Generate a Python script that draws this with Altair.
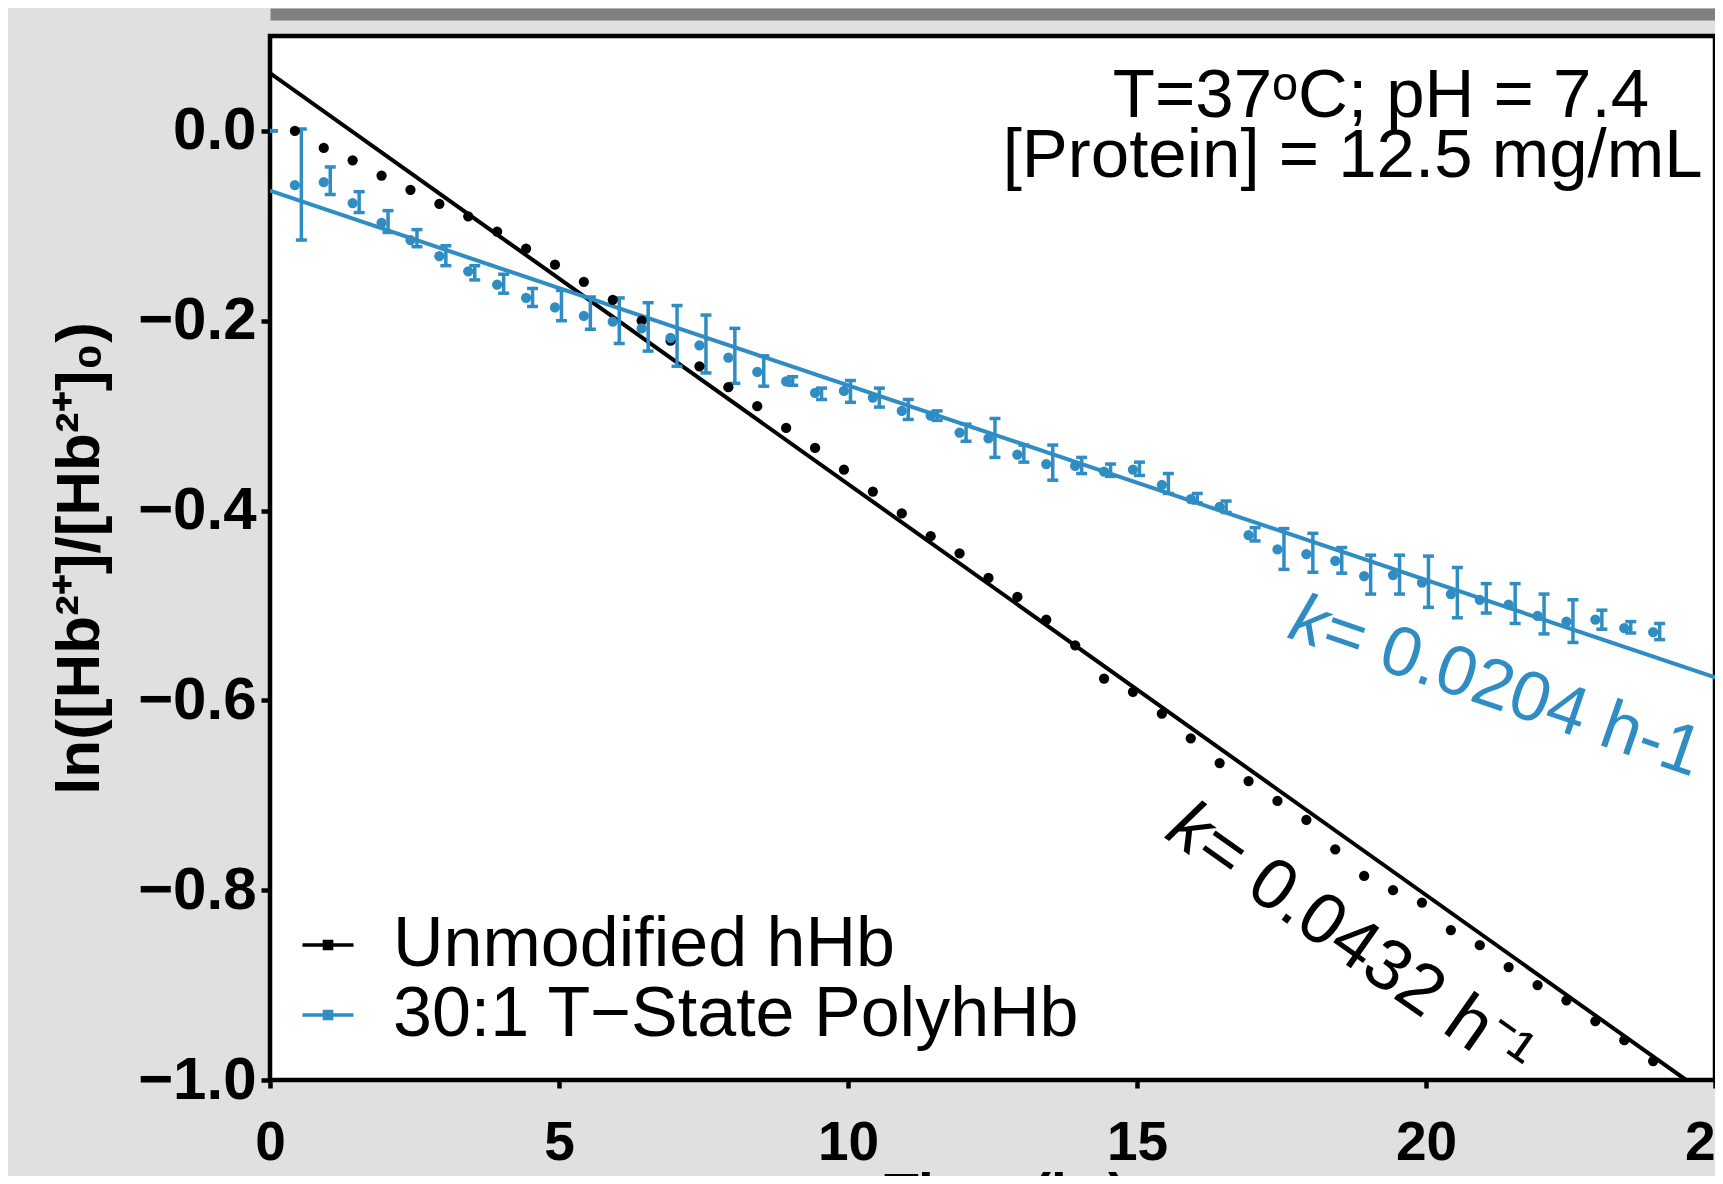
import altair as alt
import pandas as pd

FONT = "Liberation Sans"
BLUE = "#2f8dc3"

# ---------------- data ----------------
time_h = [0.43, 0.93, 1.43, 1.93, 2.43, 2.93, 3.43, 3.93, 4.43, 4.93, 5.43, 5.93,
          6.43, 6.93, 7.43, 7.93, 8.43, 8.93, 9.43, 9.93, 10.43, 10.93, 11.43, 11.93,
          12.43, 12.93, 13.43, 13.93, 14.43, 14.93, 15.43, 15.93, 16.43, 16.93, 17.43, 17.93,
          18.43, 18.93, 19.43, 19.93, 20.43, 20.93, 21.43, 21.93, 22.43, 22.93, 23.43, 23.93]

hhb_value = [0.000, -0.018, -0.031, -0.047, -0.062, -0.077, -0.090, -0.106, -0.124, -0.141,
             -0.159, -0.178, -0.200, -0.221, -0.248, -0.270, -0.290, -0.313, -0.334, -0.357,
             -0.380, -0.403, -0.427, -0.445, -0.471, -0.491, -0.515, -0.542, -0.577, -0.591,
             -0.614, -0.640, -0.666, -0.685, -0.706, -0.726, -0.757, -0.785, -0.800, -0.813,
             -0.842, -0.858, -0.881, -0.900, -0.916, -0.938, -0.958, -0.980]

poly_time = [-0.07] + time_h
poly_value = [0.000, -0.057, -0.054, -0.076, -0.097, -0.115, -0.132, -0.148, -0.162, -0.176,
              -0.186, -0.195, -0.201, -0.208, -0.218, -0.226, -0.239, -0.254, -0.264, -0.276,
              -0.274, -0.281, -0.295, -0.300, -0.318, -0.324, -0.341, -0.351, -0.353, -0.359,
              -0.357, -0.373, -0.388, -0.396, -0.426, -0.441, -0.446, -0.453, -0.469, -0.468,
              -0.476, -0.488, -0.494, -0.499, -0.511, -0.517, -0.515, -0.524, -0.528]
poly_hi = [0.000, 0.002, -0.038, -0.064, -0.084, -0.104, -0.121, -0.142, -0.151, -0.166,
           -0.168, -0.175, -0.176, -0.181, -0.184, -0.194, -0.208, -0.237, -0.259, -0.271,
           -0.263, -0.271, -0.283, -0.295, -0.309, -0.303, -0.331, -0.331, -0.344, -0.351,
           -0.349, -0.361, -0.382, -0.390, -0.418, -0.419, -0.424, -0.439, -0.447, -0.447,
           -0.448, -0.460, -0.477, -0.477, -0.488, -0.494, -0.505, -0.517, -0.519]
poly_lo = [0.000, -0.115, -0.067, -0.086, -0.107, -0.122, -0.142, -0.157, -0.171, -0.185,
           -0.200, -0.209, -0.224, -0.232, -0.248, -0.255, -0.266, -0.269, -0.268, -0.283,
           -0.286, -0.291, -0.304, -0.305, -0.327, -0.344, -0.349, -0.368, -0.361, -0.364,
           -0.363, -0.382, -0.392, -0.402, -0.432, -0.462, -0.465, -0.466, -0.488, -0.488,
           -0.502, -0.513, -0.508, -0.519, -0.530, -0.539, -0.525, -0.529, -0.536]

series_names = ["Unmodified hHb", "30:1 T\u2212State PolyhHb"]
fit_series = [series_names[0], series_names[0], series_names[1], series_names[1]]
fit_time = [0.0, 24.5, 0.0, 25.5]
fit_value = [0.061, -1.0, -0.063, -0.586]

x_ticks = [0, 5, 10, 15, 20, 25]
y_ticks = [0.0, -0.2, -0.4, -0.6, -0.8, -1.0]

# ---------------- tables ----------------
fit_df = pd.DataFrame({"series": fit_series, "t": fit_time, "v": fit_value})
hhb_df = pd.DataFrame({"t": time_h, "v": hhb_value})
poly_df = pd.DataFrame({"t": poly_time, "v": poly_value, "hi": poly_hi, "lo": poly_lo})
cond_df = pd.DataFrame({"t": [19.22, 18.73], "v": [0.0142, -0.0487],
                        "txt": ["T=37\u1d52C; pH = 7.4", "[Protein] = 12.5 mg/mL"]})
kblue_df = pd.DataFrame({"t": [17.69], "v": [-0.5123], "k": ["k"], "rest": ["= 0.0204 h-1"]})
kblack_df = pd.DataFrame({"t": [15.67], "v": [-0.7248], "k": ["k"], "rest": ["= 0.0432 h\u207b\u00b9"]})

x_scale = alt.Scale(domain=[0, 25], nice=False, zero=False)
y_scale = alt.Scale(domain=[-1.0, 0.1], nice=False, zero=False)

x_axis = alt.Axis(values=x_ticks, format="d", title="Time (hr)", labelFlush=False,
                  labelFont=FONT, labelFontSize=55, labelFontWeight="bold", labelColor="black",
                  tickColor="black", tickWidth=4.5, tickSize=8, labelPadding=28,
                  domain=False, grid=False, titleFont=FONT, titleFontSize=57,
                  titleFontWeight="bold", titleColor="black", titleX=735, titleY=88,
                  titleBaseline="top")
y_axis = alt.Axis(values=y_ticks, format=".1f", title="ln([Hb\u00b2\u207a]/[Hb\u00b2\u207a]\u2080)",
                  labelFont=FONT, labelFontSize=60, labelFontWeight="bold", labelColor="black",
                  tickColor="black", tickWidth=4.5, tickSize=9, labelPadding=5,
                  domain=False, grid=False, titleFont=FONT, titleFontSize=62,
                  titleFontWeight="bold", titleColor="black", titlePadding=26)
top_axis = alt.Axis(orient="top", labels=False, ticks=False, title=None, grid=False,
                    domainColor="#808080", domainWidth=12, offset=22)

legend = alt.Legend(title=None, orient="none", legendX=23, legendY=874, padding=0,
                    labelFont=FONT, labelFontSize=70, labelColor="black", labelLimit=2000,
                    labelOffset=30, rowPadding=-6,
                    symbolType="M-1,0H1M-0.14,-0.14H0.14V0.14H-0.14Z",
                    symbolSize=2601, symbolStrokeWidth=3.5)


def X(field, axis=None):
    if axis is None:
        return alt.X(field, scale=x_scale, axis=None)
    return alt.X(field, scale=x_scale, axis=axis)


def Y(field):
    return alt.Y(field, scale=y_scale, axis=y_axis)


fit = alt.Chart(fit_df).mark_line(clip=True, strokeWidth=4).encode(
    x=X("t:Q", x_axis),
    y=Y("v:Q"),
    color=alt.Color("series:N", scale=alt.Scale(domain=series_names, range=["black", BLUE]),
                    legend=legend),
)

bars = alt.Chart(poly_df).mark_rule(clip=True, color=BLUE, strokeWidth=3.5, xOffset=6.5).encode(
    x=X("t:Q"),
    y=Y("lo:Q"),
    y2="hi:Q",
)
cap_lo = alt.Chart(poly_df).mark_tick(clip=True, color=BLUE, orient="horizontal", size=11,
                                       thickness=3.5, xOffset=6.5, opacity=1).encode(
    x=X("t:Q"),
    y=Y("lo:Q"),
)
cap_hi = alt.Chart(poly_df).mark_tick(clip=True, color=BLUE, orient="horizontal", size=11,
                                       thickness=3.5, xOffset=6.5, opacity=1).encode(
    x=X("t:Q"),
    y=Y("hi:Q"),
)

black_pts = alt.Chart(hhb_df).mark_circle(clip=True, size=105, color="black", opacity=1).encode(
    x=X("t:Q", top_axis),
    y=Y("v:Q"),
)
blue_pts = alt.Chart(poly_df).mark_circle(clip=True, size=105, color=BLUE, opacity=1).encode(
    x=X("t:Q"),
    y=Y("v:Q"),
)

cond = alt.Chart(cond_df).mark_text(font=FONT, fontSize=69, color="black", align="center",
                                    baseline="alphabetic").encode(
    x=X("t:Q"),
    y=Y("v:Q"),
    text="txt:N",
)


def k_label(df, color, angle, size, dx):
    k = alt.Chart(df).mark_text(font=FONT, fontSize=size, color=color, align="left",
                                baseline="middle", angle=angle, fontStyle="italic").encode(
        x=X("t:Q"),
        y=Y("v:Q"),
        text="k:N",
    )
    rest = alt.Chart(df).mark_text(font=FONT, fontSize=size, color=color, align="left",
                                   baseline="middle", angle=angle, dx=dx).encode(
        x=X("t:Q"),
        y=Y("v:Q"),
        text="rest:N",
    )
    return [k, rest]


layers = [fit, bars, cap_lo, cap_hi, black_pts, blue_pts, cond]
layers += k_label(kblue_df, BLUE, 19, 70, 35)
layers += k_label(kblack_df, "black", 35, 72, 36)

chart = alt.layer(*layers).properties(
    width=1445, height=1044,
    autosize=alt.AutoSizeParams(type="none"),
    padding={"left": 262, "top": 28, "right": 0, "bottom": 96},
    background="#e0e0e0",
).resolve_axis(x="independent").configure_view(fill="white", stroke="black", strokeWidth=4.5)

chart.save("out.html", embed_options={"renderer": "svg", "actions": False})
